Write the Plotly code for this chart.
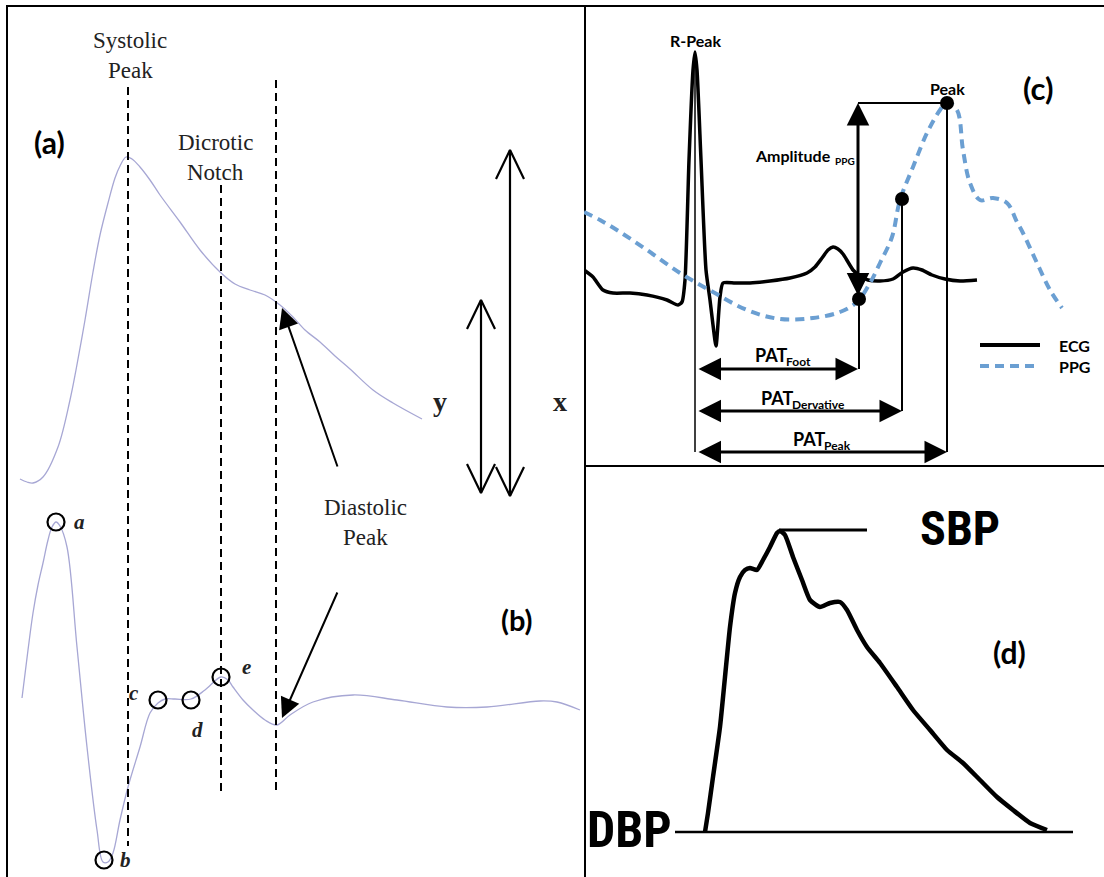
import plotly.graph_objects as go

W, H = 1104, 877

# ---------------- panel (a)/(b): PPG pulse and its second derivative ----------------
ppg_t = [20, 27, 33, 43, 58, 70, 76, 85, 93, 100, 108, 115, 120, 126, 132, 140, 150, 160, 180, 200,
         220, 235, 250, 265, 280, 292, 305, 320, 335, 350, 373, 393, 422]
ppg_v = [479, 482, 483, 477, 447, 400, 370, 320, 272, 235, 203, 178, 166, 157, 159, 167, 180, 195, 222, 250,
         272, 284, 290, 295, 305, 316, 330, 342, 356, 369, 390, 403, 419]

apg_t = [22, 28, 33, 38, 43, 48, 52, 56, 60, 67, 77, 87, 97, 103, 108, 113, 120, 128, 140, 150, 158, 165,
         175, 191, 205, 221, 228, 233, 243, 253, 265, 277, 290, 313, 353, 397, 447, 487, 540, 557, 580]
apg_v = [698, 650, 613, 585, 563, 540, 527, 522, 526, 547, 647, 747, 830, 862, 862, 853, 820, 787, 747, 713,
         703, 699, 699, 699, 690, 677, 680, 687, 700, 710, 720, 725, 715, 702, 695, 700, 707, 707, 701, 702, 710]

wave_names = ["a", "b", "c", "d", "e"]
wave_t = [56, 104, 158, 191, 221]
wave_v = [522, 860, 700, 700, 677]
wave_label_t = [79, 125, 134, 197, 246]
wave_label_v = [522, 860, 693, 730, 667]

# dashed markers: systolic peak, dicrotic notch, diastolic peak
marker_names = [("Systolic", "Peak"), ("Dicrotic", "Notch"), ("Diastolic", "Peak")]
marker_label_t = [130, 215, 365]
marker_label_v = [40, 142, 507]
marker_t = [128, 221, 276]
marker_top = [87, 185, 80]
marker_bottom = [846, 794, 794]

# double-headed amplitude arrows labelled y and x
amp_names = ["y", "x"]
amp_t = [481, 510]
amp_top = [300, 150]
amp_bottom = [493, 496]
amp_label_t = [440, 560]
amp_label_v = [401, 401]
head_half, head_len = 14, 29

# diastolic peak pointers (tail -> tip)
dia_tail_t = [338, 338]
dia_tail_v = [468, 591]
dia_tip_t = [282, 282]
dia_tip_v = [308, 718]

# ---------------- panel (c): ECG / PPG timing ----------------
ecg_t = [584, 593, 603, 613, 630, 647, 667, 678, 682, 685, 689, 693, 695, 697, 701, 706, 710, 713, 716,
         720, 723, 735, 750, 770, 790, 807, 815, 822, 828, 833, 838, 843, 848, 853, 860, 868, 880, 893,
         903, 913, 922, 932, 945, 960, 977]
ecg_v = [270, 277, 290, 293, 293, 295, 300, 305, 302, 280, 160, 70, 52, 70, 160, 270, 300, 325, 346,
         297, 283, 283, 283, 281, 278, 273, 267, 258, 250, 247, 249, 254, 262, 270, 276, 280, 281, 279,
         272, 268, 270, 275, 279, 281, 280]

ppg2_t = [584, 600, 620, 647, 680, 713, 747, 780, 813, 840, 857, 870, 880, 892, 900, 913, 927, 940, 947,
          957, 963, 970, 980, 993, 1007, 1017, 1023, 1037, 1050, 1062]
ppg2_v = [212, 220, 232, 250, 273, 292, 310, 319, 318, 312, 302, 283, 263, 237, 200, 167, 133, 110, 102,
          110, 150, 183, 200, 198, 203, 222, 233, 263, 290, 308]

fiducial_t = [859, 902, 947]
fiducial_v = [299, 199, 103]

r_peak_t, r_peak_v = 695, 52
pat_names = ["Foot", "Dervative", "Peak"]
pat_start = 697
pat_end = [858, 902, 947]
pat_level = [369, 411, 452]
pat_label_t = [787, 793, 825]
pat_label_v = [355, 398, 439]

amp_ppg_t = 858
amp_ppg_foot, amp_ppg_peak = 297, 103

legend_names = ["ECG", "PPG"]
legend_t = [980, 1040]
legend_v = [345, 366]

# ---------------- panel (d): arterial pressure waveform ----------------
abp_t = [705, 708, 713, 720, 725, 730, 735, 740, 745, 750, 757, 763, 770, 777, 780, 785, 793, 802, 810,
         820, 830, 840, 847, 857, 867, 880, 897, 913, 930, 947, 963, 980, 997, 1013, 1030, 1047]
abp_v = [832, 813, 777, 727, 677, 627, 593, 577, 570, 568, 570, 560, 547, 533, 531, 535, 557, 580, 600,
         607, 603, 602, 610, 630, 647, 663, 687, 710, 730, 750, 763, 780, 797, 810, 823, 830]
sbp_t, sbp_v = [779, 867], 530
dbp_t, dbp_v = [675, 1073], 832

# ---------------- figure ----------------
fig = go.Figure()
A = dict(xaxis="x", yaxis="y")
C = dict(xaxis="x2", yaxis="y2")
D = dict(xaxis="x3", yaxis="y3")

wave_color = "#a7a7d4"
fig.add_trace(go.Scatter(x=ppg_t, y=ppg_v, mode="lines", line=dict(color=wave_color, width=1.3, shape="spline"), **A))
fig.add_trace(go.Scatter(x=apg_t, y=apg_v, mode="lines", line=dict(color=wave_color, width=1.3, shape="spline"), **A))

for t, y0, y1 in zip(marker_t, marker_top, marker_bottom):
    fig.add_trace(go.Scatter(x=[t, t], y=[y0, y1], mode="lines",
                             line=dict(color="black", width=2, dash="8px,5px"), **A))

fig.add_trace(go.Scatter(x=wave_t, y=wave_v, mode="markers",
                         marker=dict(symbol="circle-open", size=17, color="black", line=dict(width=2.2)), **A))

for t, y0, y1 in zip(amp_t, amp_top, amp_bottom):
    xs = [t, t, None, t - head_half, t, t + head_half, None, t - head_half, t, t + head_half]
    ys = [y0, y1, None, y0 + head_len, y0, y0 + head_len, None, y1 - head_len, y1, y1 - head_len]
    fig.add_trace(go.Scatter(x=xs, y=ys, mode="lines", line=dict(color="black", width=2.2), **A))

fig.add_trace(go.Scatter(x=ecg_t, y=ecg_v, mode="lines", line=dict(color="black", width=3.5, shape="spline", smoothing=0.6), **C))
fig.add_trace(go.Scatter(x=ppg2_t, y=ppg2_v, mode="lines",
                         line=dict(color="#6b9fd2", width=4, dash="9px,6px", shape="spline"), **C))

# guide lines from the R-peak and the PPG fiducials
fig.add_trace(go.Scatter(x=[r_peak_t, r_peak_t], y=[r_peak_v, pat_level[-1]], mode="lines",
                         line=dict(color="black", width=1.5), **C))
for t, v, lvl in zip(fiducial_t, fiducial_v, pat_level):
    fig.add_trace(go.Scatter(x=[t, t], y=[v, lvl], mode="lines", line=dict(color="black", width=2), **C))
fig.add_trace(go.Scatter(x=[amp_ppg_t, fiducial_t[-1]], y=[amp_ppg_peak, amp_ppg_peak], mode="lines",
                         line=dict(color="black", width=2), **C))

fig.add_trace(go.Scatter(x=fiducial_t, y=fiducial_v, mode="markers",
                         marker=dict(size=14, color="black"), **C))

fig.add_trace(go.Scatter(x=legend_t, y=[legend_v[0]] * 2, mode="lines", line=dict(color="black", width=4), **C))
fig.add_trace(go.Scatter(x=legend_t, y=[legend_v[1]] * 2, mode="lines",
                         line=dict(color="#6b9fd2", width=4, dash="9px,6px"), **C))

fig.add_trace(go.Scatter(x=abp_t, y=abp_v, mode="lines", line=dict(color="black", width=4.5, shape="spline", smoothing=0.5), **D))
fig.add_trace(go.Scatter(x=sbp_t, y=[sbp_v] * 2, mode="lines", line=dict(color="black", width=3), **D))
fig.add_trace(go.Scatter(x=dbp_t, y=[dbp_v] * 2, mode="lines", line=dict(color="black", width=2.5), **D))

# ---------------- text and arrows ----------------
serif = "Liberation Serif, Times New Roman, serif"
sans = "Lato, Open Sans, sans-serif"
narrow = "Roboto Condensed, Roboto, Liberation Sans, sans-serif"
ann = []


def label(text, x, y, ax, size, family, xanchor="center", color="black", weight="normal", style="normal"):
    ann.append(dict(text=text, x=x, y=y, xref=f"x{ax}", yref=f"y{ax}", showarrow=False,
                    xanchor=xanchor, yanchor="middle",
                    font=dict(size=size, family=family, color=color, weight=weight, style=style)))


def sub_label(main, sub, x, y, ax, size, sub_size, gap=0):
    """Bold main text ending at x, followed by a lowered subscript."""
    label(main, x + 2, y, ax, size, sans, xanchor="right", weight="bold")
    label(sub, x - 3 + gap, y + size * 0.36, ax, sub_size, sans, xanchor="left", weight="bold")


def arrow(x, y, x0, y0, ax, width, size, both=False):
    a = dict(text="", x=x, y=y, ax=x0, ay=y0, xref=f"x{ax}", yref=f"y{ax}",
             axref=f"x{ax}", ayref=f"y{ax}", showarrow=True, arrowhead=2, arrowsize=size,
             arrowwidth=width, arrowcolor="black", standoff=0, startstandoff=0)
    if both:
        a.update(arrowside="end+start", startarrowhead=2, startarrowsize=size)
    ann.append(a)


for (l1, l2), t, v in zip(marker_names, marker_label_t, marker_label_v):
    label(l1, t, v, "", 23, serif, color="#222")
    label(l2, t, v + 30, "", 23, serif, color="#222")
label("(a)", 49, 142, "", 30, sans, weight="bold")
label("(b)", 517, 619, "", 29, sans, weight="bold")
for n, t, v in zip(amp_names, amp_label_t, amp_label_v):
    label(n, t, v, "", 28, serif, weight="bold", color="#222")
for n, t, v in zip(wave_names, wave_label_t, wave_label_v):
    label(n, t, v, "", 21, serif, weight="bold", style="italic", color="#222")
for t0, v0, t1, v1 in zip(dia_tail_t, dia_tail_v, dia_tip_t, dia_tip_v):
    arrow(t1, v1, t0, v0, "", 2, 2.0)

label("R-Peak", r_peak_t, 40, "2", 16, sans, weight="bold")
label("Peak", fiducial_t[-1], 88, "2", 16, sans, weight="bold")
label("(c)", 1038, 88, "2", 31, sans, weight="bold")
sub_label("Amplitude", "PPG", 831, 155, "2", 16, 10, gap=5)
for n, t, v in zip(pat_names, pat_label_t, pat_label_v):
    sub_label("PAT", n, t, v, "2", 18, 12)
for n, v in zip(legend_names, legend_v):
    label(n, 1057, v, "2", 16, sans, xanchor="left", weight="bold")

for end, lvl in zip(pat_end, pat_level):
    arrow(end, lvl, pat_start, lvl, "2", 3, 1.5, both=True)
arrow(amp_ppg_t, amp_ppg_peak, amp_ppg_t, amp_ppg_foot, "2", 3, 1.5, both=True)

label("SBP", 960, 528, "3", 48, narrow, weight="bold")
label("DBP", 629, 830, "3", 50, narrow, weight="bold")
label("(d)", 1009, 652, "3", 30, sans, weight="bold")

hidden = dict(showgrid=False, zeroline=False, showticklabels=False, ticks="")
fig.update_layout(
    width=W, height=H, margin=dict(l=0, r=0, t=0, b=0),
    paper_bgcolor="white", plot_bgcolor="rgba(0,0,0,0)", showlegend=False,
    annotations=ann,
    xaxis=dict(domain=[8 / W, 584 / W], range=[8, 584], side="top", showline=True,
               linecolor="black", linewidth=2, **hidden),
    yaxis=dict(domain=[0, 1 - 7 / H], range=[877, 7], showline=True, mirror=True,
               linecolor="black", linewidth=2, **hidden),
    xaxis2=dict(domain=[584 / W, 1], range=[584, 1104], anchor="y2", showline=True, mirror=True,
                linecolor="black", linewidth=2, **hidden),
    yaxis2=dict(domain=[1 - 465 / H, 1 - 7 / H], range=[465, 7], anchor="x2", **hidden),
    xaxis3=dict(domain=[584 / W, 1], range=[584, 1104], anchor="y3", **hidden),
    yaxis3=dict(domain=[0, 1 - 465 / H], range=[877, 465], anchor="x3", **hidden),
)

fig.write_html("out.html")
